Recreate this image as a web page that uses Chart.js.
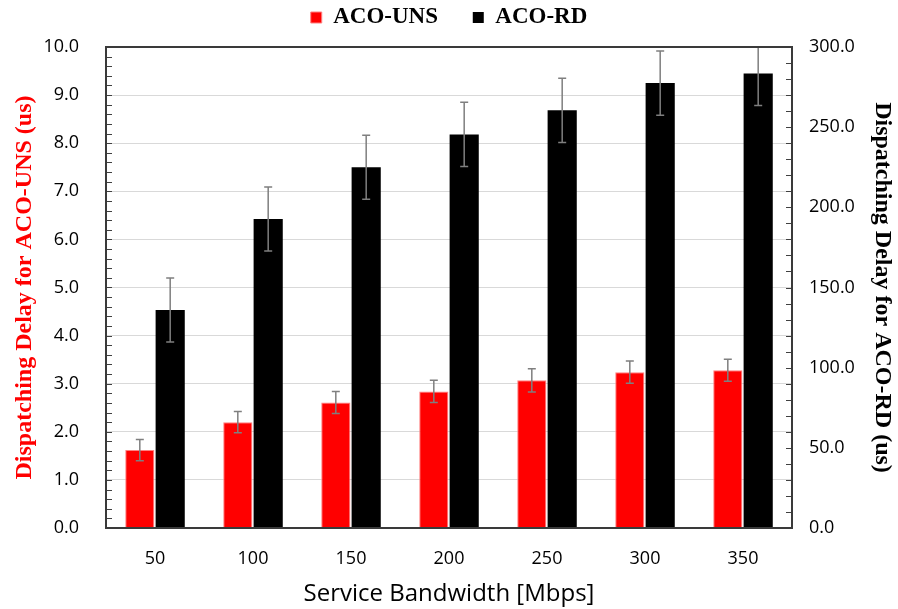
<!DOCTYPE html>
<html>
<head>
<meta charset="utf-8">
<script src="https://cdn.jsdelivr.net/npm/chart.js@4.4.1/dist/chart.umd.min.js"></script>
<style>
  body { margin: 0; background: #fff; }
  #wrap { width: 898px; height: 609px; }
</style>
</head>
<body>
<div id="wrap"><canvas id="delayChart"></canvas></div>
<script>
// values
const bandwidths = ['50', '100', '150', '200', '250', '300', '350'];
const unsDelay = [1.62, 2.20, 2.61, 2.84, 3.07, 3.24, 3.28];
const unsErr = [0.22, 0.22, 0.23, 0.23, 0.24, 0.23, 0.23];
const rdDelay = [136.0, 192.7, 225.0, 245.5, 260.5, 277.5, 283.5];
const rdErr = [20, 20, 20, 20, 20, 20, 20];
const leftTicks = [0, 1, 2, 3, 4, 5, 6, 7, 8, 9, 10];
const rightTicks = [0, 50, 100, 150, 200, 250, 300];

const errors = [unsErr, rdErr];

// keep legend high up but the plot top where it is
const legendHeightPlugin = {
  id: 'legendHeight',
  beforeLayout(chart) {
    const lg = chart.legend;
    if (lg && !lg._patched) {
      const fit = lg.fit;
      lg.fit = function() { fit.call(this); this.height = 47; };
      lg._patched = true;
    }
  }
};

// error bars, frame and small inward ticks
const extrasPlugin = {
  id: 'extras',
  afterDatasetsDraw(chart) {
    const ctx = chart.ctx;
    const area = chart.chartArea;
    ctx.save();
    ctx.beginPath();
    ctx.rect(area.left, area.top - 1, area.right - area.left, area.bottom - area.top + 1);
    ctx.clip();
    ctx.strokeStyle = '#7f7f7f';
    ctx.lineWidth = 1.5;
    chart.data.datasets.forEach((ds, i) => {
      const meta = chart.getDatasetMeta(i);
      const scale = chart.scales[meta.yAxisID];
      meta.data.forEach((bar, j) => {
        const v = ds.data[j];
        const e = errors[i][j];
        const yHi = scale.getPixelForValue(v + e);
        const yLo = scale.getPixelForValue(v - e);
        ctx.beginPath();
        ctx.moveTo(bar.x, yHi); ctx.lineTo(bar.x, yLo);
        ctx.moveTo(bar.x - 4, yHi); ctx.lineTo(bar.x + 4, yHi);
        ctx.moveTo(bar.x - 4, yLo); ctx.lineTo(bar.x + 4, yLo);
        ctx.stroke();
      });
    });
    ctx.restore();

    ctx.save();
    ctx.strokeStyle = '#404040';
    ctx.lineWidth = 1;
    const yL = chart.scales.y;
    for (let v = 0; v <= 10.001; v += 0.2) {
      const y = Math.round(yL.getPixelForValue(v)) + 0.5;
      ctx.beginPath(); ctx.moveTo(area.left, y); ctx.lineTo(area.left + 6, y); ctx.stroke();
    }
    const yR = chart.scales.y1;
    for (let v = 0; v <= 300; v += 10) {
      const y = Math.round(yR.getPixelForValue(v)) + 0.5;
      ctx.beginPath(); ctx.moveTo(area.right, y); ctx.lineTo(area.right - 6, y); ctx.stroke();
    }
    ctx.strokeStyle = '#3a3a3a';
    ctx.lineWidth = 2;
    ctx.strokeRect(area.left, area.top, area.right - area.left, area.bottom - area.top);
    ctx.restore();
  }
};

const tickFont = { family: 'Open Sans', size: 18 };

new Chart(document.getElementById('delayChart'), {
  type: 'bar',
  data: {
    labels: bandwidths,
    datasets: [{
      label: 'ACO-UNS',
      data: unsDelay,
      yAxisID: 'y',
      backgroundColor: '#ff0000',
      borderColor: '#ff8080',
      borderWidth: 1
    }, {
      label: 'ACO-RD',
      data: rdDelay,
      yAxisID: 'y1',
      backgroundColor: '#000000',
      borderColor: '#000000',
      borderWidth: 0
    }]
  },
  options: {
    responsive: true,
    maintainAspectRatio: false,
    animation: false,
    layout: { padding: 0 },
    datasets: {
      bar: { categoryPercentage: 0.62, barPercentage: 0.96 }
    },
    plugins: {
      tooltip: { enabled: false },
      legend: {
        position: 'top',
        labels: {
          boxWidth: 11,
          boxHeight: 11,
          padding: 6,
          color: '#000',
          font: { family: 'Liberation Serif', size: 23, weight: 'bold' },
          generateLabels(chart) {
            const items = Chart.defaults.plugins.legend.labels.generateLabels(chart);
            items[0].text = items[0].text + '     ';
            return items;
          }
        }
      }
    },
    scales: {
      x: {
        grid: { display: false },
        border: { display: false },
        ticks: { color: '#000', font: tickFont, padding: 12 },
        title: {
          display: true,
          text: 'Service Bandwidth [Mbps]',
          color: '#000',
          font: { family: 'Open Sans', size: 24 },
          padding: { top: 2, bottom: 0 }
        },
        afterFit(scale) { scale.height = 81; }
      },
      y: {
        position: 'left',
        min: 0,
        max: 10,
        afterBuildTicks(scale) { scale.ticks = leftTicks.map(v => ({ value: v })); },
        grid: { color: '#d9d9d9', lineWidth: 1, drawTicks: false },
        border: { display: false },
        ticks: {
          color: '#000',
          font: tickFont,
          padding: 27,
          callback: v => v.toFixed(1)
        },
        title: {
          display: true,
          text: 'Dispatching Delay for ACO-UNS (us)',
          color: '#ff0000',
          font: { family: 'Liberation Serif', size: 24, weight: 'bold' },
          padding: { top: 10, bottom: 0 }
        },
        afterFit(scale) { scale.width = 106; }
      },
      y1: {
        position: 'right',
        min: 0,
        max: 300,
        afterBuildTicks(scale) { scale.ticks = rightTicks.map(v => ({ value: v })); },
        grid: { drawOnChartArea: false, drawTicks: false },
        border: { display: false },
        ticks: {
          color: '#000',
          font: tickFont,
          padding: 17,
          callback: v => v.toFixed(1)
        },
        title: {
          display: true,
          text: 'Dispatching Delay for ACO-RD (us)',
          color: '#000',
          font: { family: 'Liberation Serif', size: 24, weight: 'bold' },
          padding: { top: 1, bottom: 0 }
        },
        afterFit(scale) { scale.width = 106; }
      }
    }
  },
  plugins: [legendHeightPlugin, extrasPlugin]
});
</script>
</body>
</html>
